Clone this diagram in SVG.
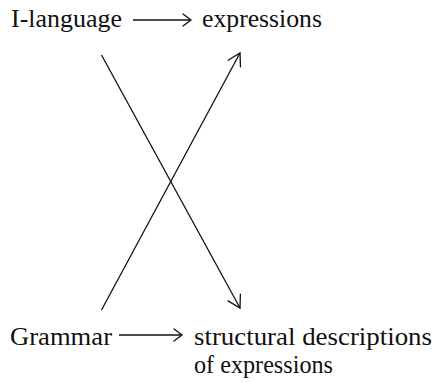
<svg xmlns="http://www.w3.org/2000/svg" width="435" height="383" viewBox="0 0 435 383">
<style>
  text { font-family: "Liberation Serif", "Times New Roman", serif; font-size: 26px; fill: #111; }
  .conn { stroke: #111; stroke-width: 1.3; fill: none; }
  .head { stroke: #111; stroke-width: 1.3; fill: none; stroke-linecap: round; stroke-linejoin: miter; }
</style>
<defs>
  <marker id="arr" viewBox="-10 -7 12 14" markerWidth="12" markerHeight="14" refX="0" refY="0" orient="auto" markerUnits="userSpaceOnUse">
    <path d="M-8,-6 L0,0 L-8,6" class="head"/>
  </marker>
  <marker id="arrD" viewBox="-14 -9 16 18" markerWidth="16" markerHeight="18" refX="0" refY="0" orient="auto" markerUnits="userSpaceOnUse">
    <path d="M-12,-7 L0,0 L-12,7" class="head"/>
  </marker>
</defs>
<g id="ilanguage"><text x="11" y="27" textLength="111" lengthAdjust="spacingAndGlyphs">I-language</text></g>
<g id="expressions"><text x="202" y="27" textLength="120" lengthAdjust="spacingAndGlyphs">expressions</text></g>
<g id="grammar"><text x="10" y="345" textLength="102" lengthAdjust="spacingAndGlyphs">Grammar</text></g>
<g id="sd">
  <text x="194" y="345" textLength="238" lengthAdjust="spacingAndGlyphs">structural descriptions</text>
  <text x="194" y="373" textLength="139" lengthAdjust="spacingAndGlyphs">of expressions</text>
</g>
<g id="connectors">
  <line class="conn" x1="133" y1="20" x2="191" y2="20" marker-end="url(#arr)"/>
  <line class="conn" x1="119" y1="335" x2="182" y2="335" marker-end="url(#arr)"/>
  <line class="conn" x1="101.5" y1="55" x2="240" y2="308" marker-end="url(#arrD)"/>
  <line class="conn" x1="101.5" y1="310" x2="240" y2="53" marker-end="url(#arrD)"/>
</g>
</svg>
